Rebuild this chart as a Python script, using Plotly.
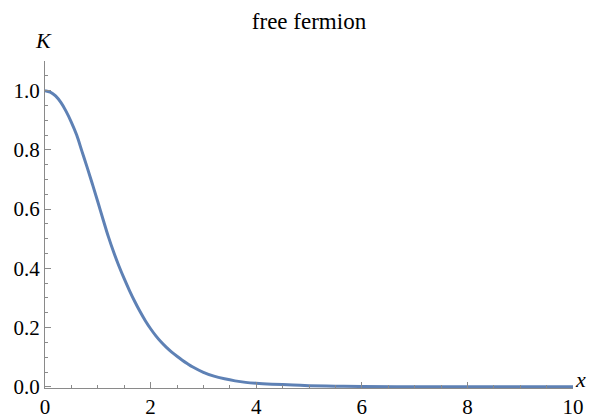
import plotly.graph_objects as go

# Values
x_vals = [0.0, 0.1, 0.2, 0.3, 0.4, 0.5, 0.6, 0.7, 0.8, 0.9, 1.0, 1.1, 1.2, 1.3, 1.4, 1.5,
          1.6, 1.7, 1.8, 1.9, 2.0, 2.1, 2.2, 2.3, 2.4, 2.5, 2.6, 2.7, 2.8, 3.0, 3.2, 3.4,
          3.6, 3.8, 4.0, 4.3, 4.7, 5.0, 5.5, 6.0, 7.0, 8.0, 10.0]
k_vals = [1.0, 0.995, 0.982, 0.96, 0.93, 0.893, 0.85, 0.795, 0.74, 0.683, 0.625, 0.565, 0.507,
          0.455, 0.408, 0.365, 0.325, 0.288, 0.254, 0.223, 0.196, 0.172, 0.151, 0.133, 0.117,
          0.103, 0.09, 0.078, 0.067, 0.049, 0.036, 0.027, 0.02, 0.015, 0.012, 0.009, 0.006,
          0.004, 0.002, 0.001, 0.0003, 0.0001, 0.0]

x_ticks = [0, 2, 4, 6, 8, 10]
x_ticklabels = ["0", "2", "4", "6", "8", "10"]
y_ticks = [0.0, 0.2, 0.4, 0.6, 0.8, 1.0]
y_ticklabels = ["0.0", "0.2", "0.4", "0.6", "0.8", "1.0"]

title_text = "free fermion"
x_label = "<i>x</i>"
y_label = "<i>K</i>"

FONT = "Liberation Serif"
FS = 23
TFS = 21
AXIS_COLOR = "#8a8a8a"

fig = go.Figure()
fig.add_trace(go.Scatter(
    x=x_vals, y=k_vals, mode="lines",
    line=dict(color="#5E81B5", width=3, shape="spline", smoothing=1.0),
    hoverinfo="skip", showlegend=False,
))

# page body has an 8px margin, so the figure is shifted by 8px
fig.update_layout(
    width=588, height=411,
    margin=dict(l=37, r=23, t=53, b=31, autoexpand=False),
    paper_bgcolor="white", plot_bgcolor="white",
    font=dict(family=FONT, size=FS, color="black"),
    title=dict(text=title_text, x=0.5, xanchor="center", xref="paper",
               y=1.0, yanchor="top", yref="container", pad=dict(t=5),
               font=dict(family=FONT, size=FS, color="black")),
    xaxis=dict(
        range=[0, 10], showgrid=False, zeroline=False, automargin=False,
        showline=True, linecolor=AXIS_COLOR, linewidth=1,
        tickmode="array", tickvals=x_ticks, ticktext=x_ticklabels,
        ticks="inside", ticklen=6, tickcolor=AXIS_COLOR, tickwidth=1,
        minor=dict(ticks="inside", ticklen=3, tickcolor=AXIS_COLOR, dtick=0.5, showgrid=False),
        tickfont=dict(family=FONT, size=TFS), ticklabelstandoff=0,
    ),
    yaxis=dict(
        range=[-0.004, 1.1], showgrid=False, zeroline=False, automargin=False,
        showline=True, linecolor=AXIS_COLOR, linewidth=1,
        tickmode="array", tickvals=y_ticks, ticktext=y_ticklabels,
        ticks="inside", ticklen=6, tickcolor=AXIS_COLOR, tickwidth=1,
        minor=dict(ticks="inside", ticklen=3, tickcolor=AXIS_COLOR, dtick=0.05, showgrid=False),
        tickfont=dict(family=FONT, size=TFS), ticklabelstandoff=0,
    ),
    annotations=[
        dict(text=y_label, xref="paper", yref="paper", x=0, y=1.0, xanchor="center",
             yanchor="bottom", xshift=-2, yshift=6, showarrow=False,
             font=dict(family=FONT, size=FS - 1, color="black")),
        dict(text=x_label, xref="paper", yref="paper", x=1.0, y=0.0, xanchor="left",
             yanchor="bottom", xshift=0, yshift=-6, showarrow=False,
             font=dict(family=FONT, size=FS - 1, color="black")),
    ],
)

fig.write_html("out.html")
